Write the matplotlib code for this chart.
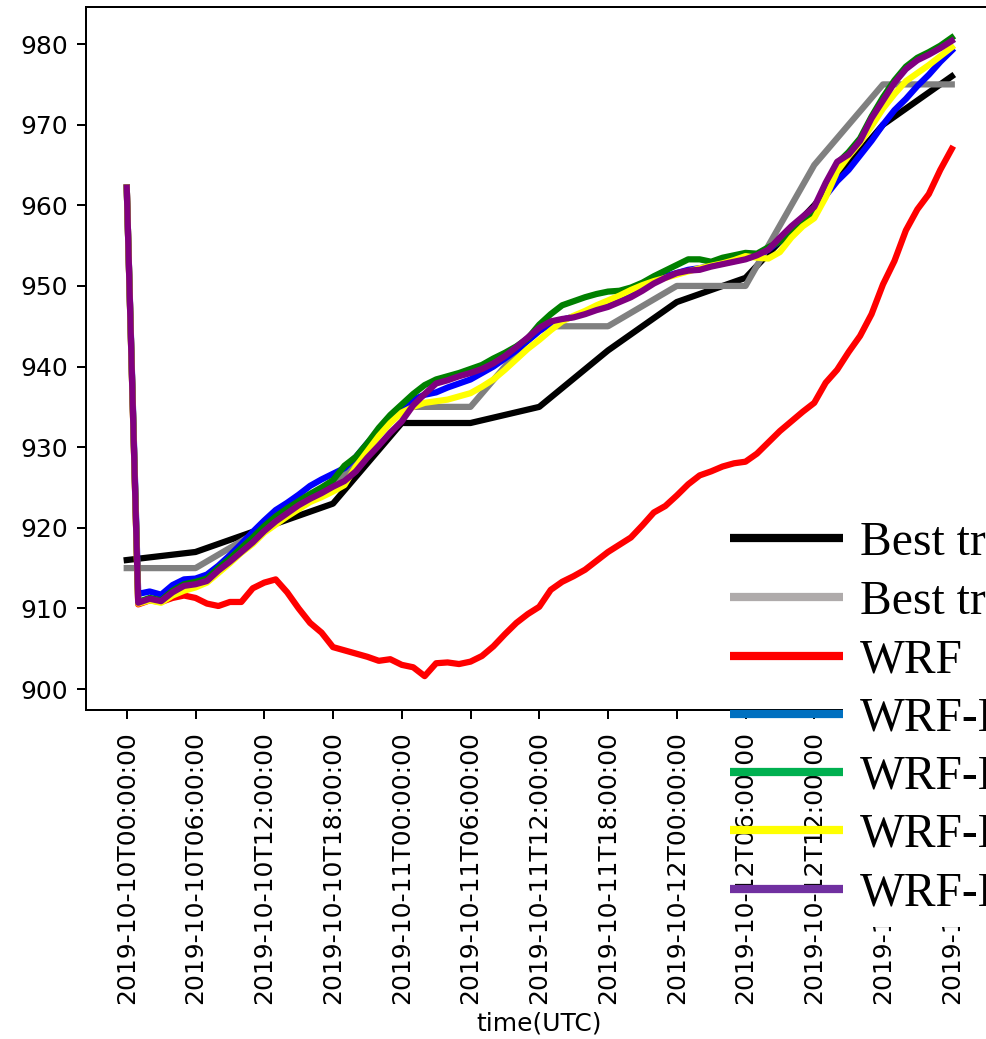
import numpy as np
import matplotlib
matplotlib.use("Agg")
import matplotlib.pyplot as plt
from matplotlib.lines import Line2D
from matplotlib.patches import Rectangle

# ---- data -------------------------------------------------------------
hours = np.arange(73)                       # hourly model output, 0..72 h
bt_hours = np.arange(0, 73, 6)              # 6-hourly best-track fixes

tick_labels = [
    "2019-10-10T00:00:00", "2019-10-10T06:00:00", "2019-10-10T12:00:00",
    "2019-10-10T18:00:00", "2019-10-11T00:00:00", "2019-10-11T06:00:00",
    "2019-10-11T12:00:00", "2019-10-11T18:00:00", "2019-10-12T00:00:00",
    "2019-10-12T06:00:00", "2019-10-12T12:00:00", "2019-10-12T18:00:00",
    "2019-10-13T00:00:00",
]

best_track_1 = [916, 917, 920, 923, 933, 933, 935, 942, 948, 951, 960, 970, 976]
best_track_2 = [915, 915, 920, 925, 935, 935, 945, 945, 950, 950, 965, 975, 975]

wrf = [962.2, 910.5, 911.0, 910.8, 911.3, 911.6, 911.3, 910.6, 910.3, 910.8,
       910.8, 912.5, 913.2, 913.6, 912.0, 910.0, 908.2, 907.0, 905.2, 904.8,
       904.4, 904.0, 903.5, 903.7, 903.0, 902.7, 901.6, 903.2, 903.3, 903.1,
       903.4, 904.1, 905.3, 906.8, 908.2, 909.3, 910.2, 912.3, 913.3, 914.0,
       914.8, 915.9, 917.0, 917.9, 918.8, 920.3, 921.9, 922.7, 924.0, 925.4,
       926.5, 927.0, 927.6, 928.0, 928.2, 929.2, 930.6, 932.0, 933.2, 934.4,
       935.5, 938.0, 939.6, 941.8, 943.8, 946.5, 950.2, 953.1, 956.9, 959.5,
       961.4, 964.4, 967.0]

wrf_1 = [962.2, 911.8, 912.1, 911.7, 912.9, 913.6, 913.7, 914.2, 915.3, 916.6,
         918.0, 919.5, 920.9, 922.2, 923.1, 924.1, 925.2, 926.0, 926.7, 927.4,
         928.8, 930.5, 932.0, 933.3, 934.6, 935.9, 936.5, 936.8, 937.4, 937.9,
         938.4, 939.2, 940.0, 941.0, 942.0, 943.2, 944.4, 945.3, 945.8, 946.2,
         946.7, 947.2, 947.7, 948.3, 949.0, 949.8, 950.6, 951.2, 951.6, 952.0,
         952.2, 952.5, 952.8, 953.1, 953.4, 953.8, 954.5, 955.6, 957.0, 958.2,
         959.2, 961.2, 963.0, 964.4, 966.2, 968.0, 970.0, 971.8, 973.2, 974.8,
         976.2, 977.8, 979.2]

wrf_2 = [962.2, 910.8, 911.3, 911.0, 912.2, 913.0, 913.3, 913.7, 915.0, 916.2,
         917.5, 918.8, 920.2, 921.4, 922.4, 923.3, 924.2, 925.0, 925.9, 927.7,
         928.8, 930.5, 932.4, 934.0, 935.3, 936.6, 937.7, 938.4, 938.8, 939.2,
         939.7, 940.2, 941.0, 941.7, 942.5, 943.5, 945.2, 946.5, 947.6, 948.1,
         948.6, 949.0, 949.3, 949.4, 949.8, 950.4, 951.2, 951.9, 952.6, 953.3,
         953.3, 953.0, 953.5, 953.8, 954.1, 954.0, 954.8, 955.5, 956.6, 958.0,
         959.4, 962.4, 965.2, 966.6, 968.3, 971.0, 973.4, 975.5, 977.2, 978.3,
         979.0, 979.8, 980.8]

wrf_3 = [962.2, 910.6, 911.0, 910.7, 911.6, 912.2, 912.6, 913.2, 914.4, 915.6,
         916.9, 918.0, 919.4, 920.4, 921.4, 922.3, 923.2, 923.8, 924.5, 925.3,
         927.6, 929.5, 931.4, 933.0, 934.3, 935.0, 935.5, 935.7, 935.9, 936.3,
         936.7, 937.5, 938.4, 939.6, 940.9, 942.2, 943.3, 944.5, 945.6, 946.3,
         946.9, 947.6, 948.2, 948.8, 949.5, 950.1, 950.6, 951.0, 951.4, 951.8,
         952.2, 952.5, 952.8, 953.2, 953.7, 953.5, 953.4, 954.2, 956.0, 957.4,
         958.4, 961.0, 964.2, 966.1, 967.8, 969.8, 972.0, 973.8, 975.4, 976.4,
         977.4, 978.5, 979.6]

wrf_4 = [962.2, 910.7, 911.2, 910.9, 912.0, 912.8, 913.0, 913.4, 914.7, 915.8,
         917.0, 918.2, 919.6, 920.8, 921.8, 922.8, 923.6, 924.3, 925.1, 925.8,
         927.0, 928.7, 930.2, 931.8, 933.2, 935.2, 936.6, 937.9, 938.3, 938.8,
         939.2, 939.7, 940.4, 941.3, 942.4, 943.6, 944.8, 945.6, 945.9, 946.1,
         946.5, 947.0, 947.4, 948.0, 948.6, 949.4, 950.3, 951.0, 951.6, 951.9,
         952.0, 952.4, 952.7, 953.0, 953.3, 953.8, 954.5, 956.0, 957.4, 958.6,
         959.8, 962.8, 965.4, 966.3, 968.0, 970.8, 973.0, 975.2, 976.9, 978.0,
         978.7, 979.5, 980.4]

legend_labels = ["Best track (JMA)", "Best track (CMA)", "WRF",
                 "WRF-DA1", "WRF-DA2", "WRF-DA3", "WRF-DA4"]
legend_colors = ["#000000", "#AFABAB", "#FF0000", "#0070C0",
                 "#00B050", "#FFFF00", "#7030A0"]

# ---- figure -----------------------------------------------------------
W, H, DPI = 986, 1039, 180
fig = plt.figure(figsize=(W / DPI, H / DPI), dpi=DPI)
ax = fig.add_axes([85.5 / W, (H - 710) / H, (993 - 85.5) / W, (710 - 7) / H])

lw = 2.5
ax.plot(bt_hours, best_track_1, color="black", lw=lw)
ax.plot(bt_hours, best_track_2, color="grey", lw=lw)
ax.plot(hours, wrf, color="red", lw=lw)
ax.plot(hours, wrf_1, color="blue", lw=lw)
ax.plot(hours, wrf_2, color="green", lw=lw)
ax.plot(hours, wrf_3, color="yellow", lw=lw)
ax.plot(hours, wrf_4, color="purple", lw=lw)

ax.set_xlim(-3.6, 75.6)
ax.set_ylim(897.4, 984.6)
ax.set_yticks(np.arange(900, 981, 10))
ax.set_xticks(bt_hours)
ax.set_xticklabels(tick_labels, rotation=90, fontsize=10)
ax.tick_params(axis="x", pad=5)
ax.set_xlabel("time(UTC)", labelpad=3)

# white panel behind the legend text
panel = Rectangle((843 / W, (H - 927) / H), 1 - 843 / W, (927 - 515) / H,
                  transform=fig.transFigure, facecolor="white",
                  edgecolor="none", zorder=2)
fig.add_artist(panel)

handles = [Line2D([], [], color=c, lw=3.3, solid_capstyle="butt")
           for c in legend_colors]
fig.legend(handles, legend_labels, loc="center left",
           bbox_to_anchor=(730 / W, (H - 718) / H),
           frameon=False, borderpad=0, borderaxespad=0,
           handlelength=2.38, handletextpad=0.35, labelspacing=0.30,
           prop={"family": "Liberation Serif", "size": 19})

fig.savefig("out.png", dpi=DPI)
